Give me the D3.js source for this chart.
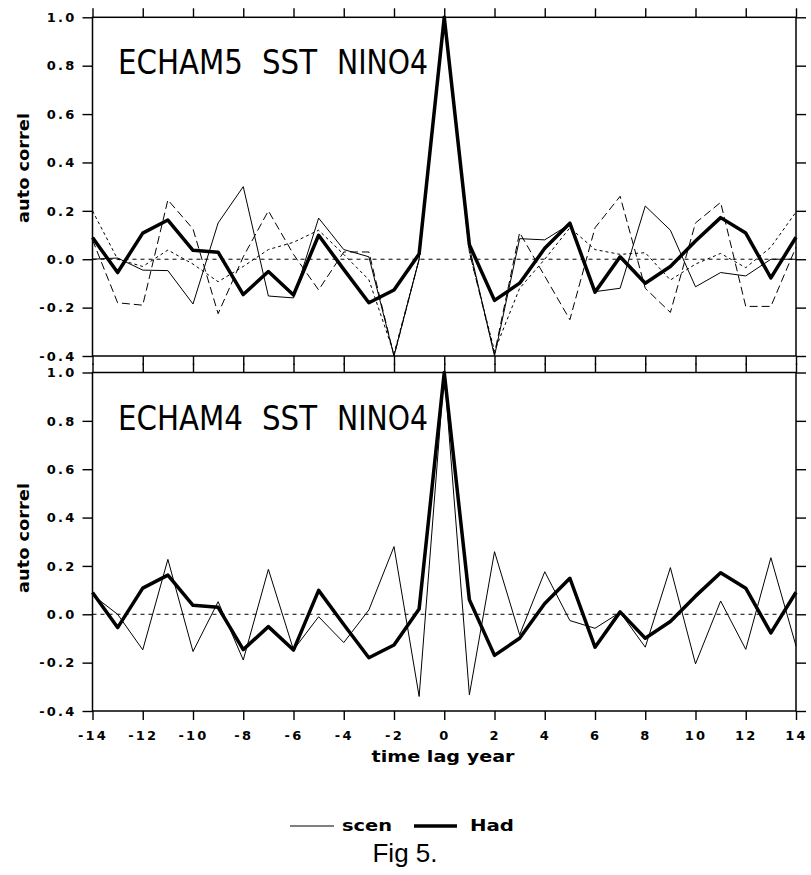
<!DOCTYPE html>
<html>
<head>
<meta charset="utf-8">
<script src="https://cdn.jsdelivr.net/npm/d3@7"></script>
<style>
  body { margin: 0; background: #fff; }
  svg { display: block; }
  .axis text { font-family: "DejaVu Sans", sans-serif; font-weight: bold; font-size: 13px; letter-spacing: 2.2px; fill: #000; }
  .axis line { stroke: #000; stroke-width: 1.4; }
  .axis path { display: none; }
  .label { font-family: "DejaVu Sans", sans-serif; fill: #000; }
</style>
</head>
<body>
<div id="wrapper"></div>
<script>
// lags (years) and values
const lags = [-14, -13, -12, -11, -10, -9, -8, -7, -6, -5, -4, -3, -2, -1, 0,
              1, 2, 3, 4, 5, 6, 7, 8, 9, 10, 11, 12, 13, 14];

const hadValues = [0.09, -0.055, 0.108, 0.162, 0.037, 0.029, -0.146, -0.051, -0.148, 0.099, -0.042, -0.18, -0.127, 0.022, 1.0,
                   0.06, -0.17, -0.099, 0.045, 0.149, -0.136, 0.01, -0.099, -0.03, 0.075, 0.172, 0.108, -0.077, 0.091];

// ECHAM5 runs (thin solid, long dash, short dash)
const echam5Solid = [0.0, 0.005, -0.045, -0.047, -0.185, 0.15, 0.30, -0.152, -0.16, 0.17, 0.04, 0.01, -0.4, 0.0, 1.0,
                     0.05, -0.4, 0.085, 0.08, 0.145, -0.134, -0.12, 0.22, 0.12, -0.114, -0.055, -0.069, 0.0, 0.0];
const echam5LongDash = [0.08, -0.18, -0.19, 0.245, 0.125, -0.225, 0.01, 0.2, 0.02, -0.127, 0.03, 0.03, -0.4, 0.0, 1.0,
                        0.03, -0.39, 0.11, -0.07, -0.25, 0.13, 0.26, -0.12, -0.22, 0.15, 0.235, -0.195, -0.195, 0.05];
const echam5ShortDash = [0.2, 0.0, -0.03, 0.038, -0.02, -0.093, -0.03, 0.04, 0.07, 0.12, 0.02, -0.085, -0.39, 0.0, 1.0,
                         0.03, -0.38, -0.12, 0.0, 0.13, 0.04, 0.02, 0.027, -0.086, -0.02, 0.024, -0.035, 0.05, 0.195];

// ECHAM4 scenario
const echam4Scen = [0.08, 0.0, -0.147, 0.227, -0.154, 0.052, -0.189, 0.186, -0.147, -0.01, -0.117, 0.018, 0.28, -0.34, 1.0,
                    -0.333, 0.259, -0.085, 0.176, -0.026, -0.058, 0.008, -0.136, 0.193, -0.205, 0.055, -0.145, 0.234, -0.131];

const xTicks = [-14, -12, -10, -8, -6, -4, -2, 0, 2, 4, 6, 8, 10, 12, 14];
const yTicks = [-0.4, -0.2, 0.0, 0.2, 0.4, 0.6, 0.8, 1.0];
const panelTitles = ["ECHAM5 SST NINO4", "ECHAM4 SST NINO4"];

function drawFigure() {
    // 1. dimensions
    const dimensions = {
        width: 811,
        height: 875,
        left: 92.5,
        right: 796,
    };
    const panels = [
        { title: panelTitles[0], top: 17.3, bottom: 356,
          series: [
            { values: echam5Solid, dash: null },
            { values: echam5LongDash, dash: "8,4" },
            { values: echam5ShortDash, dash: "3,3" },
          ],
          yLabelCenter: 168, xLabels: false },
        { title: panelTitles[1], top: 372.5, bottom: 711,
          series: [
            { values: echam4Scen, dash: null },
          ],
          yLabelCenter: 538, xLabels: true },
    ];

    const svg = d3.select("#wrapper")
        .append("svg")
        .attr("width", dimensions.width)
        .attr("height", dimensions.height);

    const xScale = d3.scaleLinear()
        .domain([-14, 14])
        .range([dimensions.left, dimensions.right]);

    const fmt = d3.formatLocale({ decimal: ".", thousands: ",", grouping: [3], currency: ["", ""], minus: "-" });

    // word placement of the panel titles (x start, width)
    const titleWords = [[118, 125], [262, 55], [337, 91]];

    panels.forEach(panel => {
        const yScale = d3.scaleLinear()
            .domain([-0.4, 1.0])
            .range([panel.bottom, panel.top]);

        const g = svg.append("g");

        // zero line
        g.append("line")
            .attr("x1", xScale(-14)).attr("x2", xScale(14))
            .attr("y1", yScale(0)).attr("y2", yScale(0))
            .attr("stroke", "#000")
            .attr("stroke-width", 1)
            .attr("stroke-dasharray", "4,4");

        const line = d3.line()
            .x((d, i) => xScale(lags[i]))
            .y(d => yScale(d));

        // thin model lines
        panel.series.forEach(s => {
            g.append("path")
                .attr("d", line(s.values))
                .attr("fill", "none")
                .attr("stroke", "#000")
                .attr("stroke-width", 1)
                .attr("stroke-dasharray", s.dash);
        });

        // observations
        g.append("path")
            .attr("d", line(hadValues))
            .attr("fill", "none")
            .attr("stroke", "#000")
            .attr("stroke-width", 3.5)
            .attr("stroke-linejoin", "round");

        // axes
        g.append("g")
            .attr("class", "axis")
            .attr("transform", `translate(${dimensions.left},0)`)
            .call(d3.axisLeft(yScale).tickValues(yTicks).tickSize(10).tickPadding(6)
                .tickFormat(fmt.format(".1f")));

        g.append("g")
            .attr("class", "axis")
            .attr("transform", `translate(${dimensions.right},0)`)
            .call(d3.axisRight(yScale).tickValues(yTicks).tickSize(10).tickFormat(""));

        g.append("g")
            .attr("class", "axis")
            .attr("transform", `translate(0,${panel.top})`)
            .call(d3.axisTop(xScale).tickValues(xTicks).tickSize(9).tickFormat(""));

        g.append("g")
            .attr("class", "axis")
            .attr("transform", `translate(0,${panel.bottom})`)
            .call(d3.axisBottom(xScale).tickValues(xTicks).tickSize(9).tickPadding(11)
                .tickFormat(panel.xLabels ? fmt.format("d") : ""));

        // frame
        g.append("rect")
            .attr("x", dimensions.left)
            .attr("y", panel.top)
            .attr("width", dimensions.right - dimensions.left)
            .attr("height", panel.bottom - panel.top)
            .attr("fill", "none")
            .attr("stroke", "#000")
            .attr("stroke-width", 1.5);

        // title, one word at a time
        panel.title.split(" ").forEach((word, i) => {
            g.append("text")
                .attr("class", "label")
                .attr("x", titleWords[i][0])
                .attr("y", panel.top + 57)
                .attr("font-size", 33)
                .attr("textLength", titleWords[i][1])
                .attr("lengthAdjust", "spacingAndGlyphs")
                .text(word);
        });

        // y label
        g.append("text")
            .attr("class", "label")
            .attr("transform", `translate(29,${panel.yLabelCenter}) rotate(-90)`)
            .attr("text-anchor", "middle")
            .attr("font-size", 16)
            .attr("font-weight", "bold")
            .attr("textLength", 110)
            .attr("lengthAdjust", "spacingAndGlyphs")
            .text("auto correl");
    });

    // x label
    svg.append("text")
        .attr("class", "label")
        .attr("x", 443)
        .attr("y", 762)
        .attr("text-anchor", "middle")
        .attr("font-size", 16)
        .attr("font-weight", "bold")
        .attr("textLength", 143)
        .attr("lengthAdjust", "spacingAndGlyphs")
        .text("time lag year");

    // legend
    const legend = svg.append("g");
    legend.append("line")
        .attr("x1", 290).attr("x2", 334).attr("y1", 826).attr("y2", 826)
        .attr("stroke", "#000").attr("stroke-width", 1);
    legend.append("text")
        .attr("class", "label")
        .attr("x", 342).attr("y", 831)
        .attr("font-size", 16)
        .attr("font-weight", "bold")
        .attr("textLength", 50)
        .attr("lengthAdjust", "spacingAndGlyphs")
        .text("scen");
    legend.append("line")
        .attr("x1", 414).attr("x2", 457).attr("y1", 826).attr("y2", 826)
        .attr("stroke", "#000").attr("stroke-width", 3.5);
    legend.append("text")
        .attr("class", "label")
        .attr("x", 470).attr("y", 831)
        .attr("font-size", 16)
        .attr("font-weight", "bold")
        .attr("textLength", 44)
        .attr("lengthAdjust", "spacingAndGlyphs")
        .text("Had");

    // caption
    svg.append("text")
        .attr("x", 405)
        .attr("y", 862)
        .attr("text-anchor", "middle")
        .attr("font-family", "Liberation Sans, Arial, sans-serif")
        .attr("font-size", 26)
        .text("Fig 5.");
}

drawFigure();
</script>
</body>
</html>
